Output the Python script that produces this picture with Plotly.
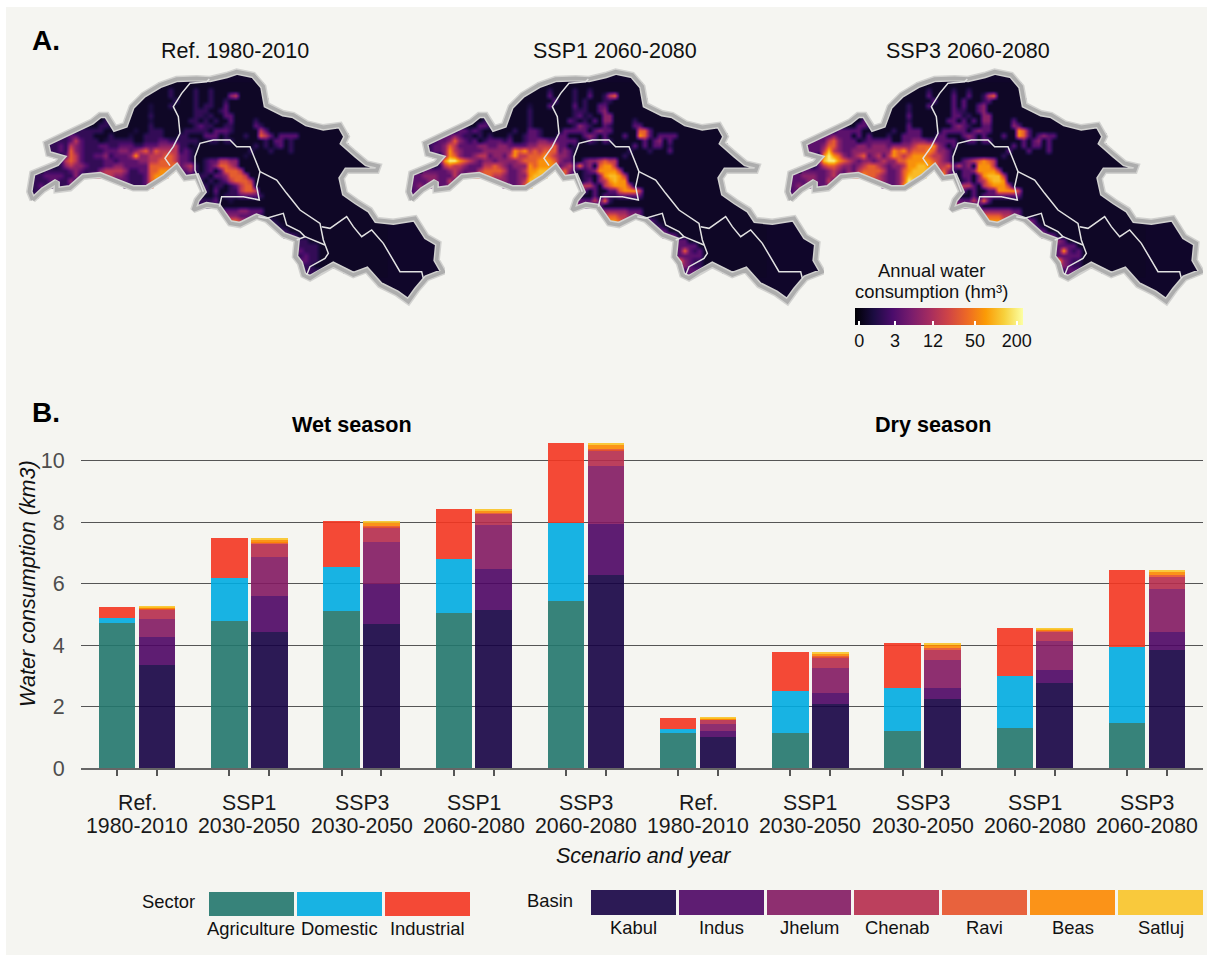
import numpy as np
import plotly.graph_objects as go

W, H = 1207, 958
scenario_names = ["Ref.", "SSP1", "SSP3", "SSP1", "SSP3", "Ref.", "SSP1", "SSP3", "SSP1", "SSP3"]
scenario_years = ["1980-2010", "2030-2050", "2030-2050", "2060-2080", "2060-2080",
                  "1980-2010", "2030-2050", "2030-2050", "2060-2080", "2060-2080"]
agriculture = [4.73, 4.78, 5.12, 5.05, 5.45, 1.13, 1.15, 1.22, 1.30, 1.45]
domestic = [.15, 1.42, 1.43, 1.75, 2.53, .14, 1.35, 1.40, 1.68, 2.48]
industrial = [.37, 1.28, 1.50, 1.62, 2.60, .36, 1.27, 1.45, 1.58, 2.52]
kabul = [3.35, 4.42, 4.70, 5.15, 6.28, 1.00, 2.07, 2.23, 2.77, 3.85]
indus = [.92, 1.18, 1.30, 1.32, 1.65, .20, .38, .39, .43, .58]
jhelum = [.58, 1.27, 1.35, 1.43, 1.90, .22, .82, .88, .93, 1.39]
chenab = [.32, .43, .48, .37, .52, .15, .33, .35, .30, .40]
ravi = [.02, .04, .05, .03, .04, .02, .04, .05, .03, .05]
beas = [.04, .09, .10, .08, .13, .03, .08, .10, .06, .11]
satluj = [.02, .05, .07, .04, .06, .02, .05, .07, .04, .07]
sector_names = ["Agriculture", "Domestic", "Industrial"]
basin_names = ["Kabul", "Indus", "Jhelum", "Chenab", "Ravi", "Beas", "Satluj"]
sector_colors = ["#22776d", "#00ace1", "#f43621"]
basin_colors = ["#160244", "#4e0664", "#831962", "#b62c4c", "#e75229", "#fc8800", "#fac428"]

outline = [(98,600),(88,575),(97,520),(135,505),(170,490),(185,473),(145,462),(138,430),(180,410),(230,385),(275,365),(300,345),(320,345),(345,385),(375,375),(395,320),(430,285),(480,255),(530,237),(590,235),(630,237),(680,225),(710,215),(760,225),(790,260),(800,315),(850,340),(880,345),(920,370),(970,382),(1020,375),(1040,410),(1030,430),(1070,465),(1100,490),(1135,498),(1130,512),(1090,512),(1040,512),(1025,535),(1035,580),(1070,605),(1110,630),(1130,660),(1180,665),(1245,655),(1280,710),(1315,730),(1310,780),(1330,815),(1280,835),(1250,870),(1225,905),(1190,880),(1140,855),(1100,810),(1060,825),(1000,795),(960,815),(930,835),(910,825),(900,790),(885,770),(890,720),(850,705),(800,660),(770,650),(720,675),(690,670),(655,620),(620,615),(580,630),(590,600),(610,575),(590,530),(555,535),(530,500),(495,530),(440,565),(400,565),(350,545),(300,525),(250,530),(210,565),(170,570),(170,545),(130,570),(98,600)]
boundaries = [
    [(628,237),(620,245),(570,250),(545,280),(520,320),(535,350),(540,400),(520,440),(495,475),(510,497)],
    [(610,575),(585,510),(585,470),(600,430),(640,420),(690,420),(710,440),(750,440),(770,490),(780,515),(770,560),(778,600),(730,590),(665,590),(658,620)],
    [(780,515),(830,540),(860,580),(900,630),(960,670),(970,720),(985,760),(975,775),(930,800),(920,825)],
    [(775,650),(800,655),(850,640),(860,675),(900,695),(915,710),(890,720)],
    [(915,710),(975,735)],
    [(965,680),(990,685),(1040,650),(1060,680),(1085,710),(1115,690),(1150,730),(1200,815),(1265,815),(1270,835)],
]

ref_rows = [
"",
".......... .......... ........2. ...2..2...",
".......... .......... ........2. ...2..2... 45",
".......... .......... .........2 ...2..2..2",
".......... .......... ....1...2. ...2.22..3",
".......... .......... ....1..... ...222..23",
".......... .......... ....2..... ...2212..3 3",
".......... 1....2.... ....1..... ..22.2.2.. 3....2....",
".......... ....221... ....2..... ...2322..2 2....32...",
".......... 22222..... .1..222... .22222.333 2.....53..",
".....22233 222...2... 1..2222... 22...333.2 ...2..653. 3333",
"....222235 3222.12222 2..2223322 2222..22.2 2......2.3 3.2",
"...2223254 3222332233 3223334445 22.1...... .....2.2.2 3.2",
"..22223264 3222233344 3456465555 232....... ....2...2. ..2",
"...222.365 3223342333 4744555665 332....... ...1......",
"...2.22565 3222233233 3344556665 332..23355 44",
".2222.2454 4322233443 3333666667 3452.23466 54",
"1232222234 3222455554 2233667776 3342.23.36 665",
"2223333224 2235555443 2223677776 322.22.334 6665",
"2222332242 1123344333 2223677775 1..22.2.23 56665",
"2232222232 1112223332 2223666654 ...2.2.22. 23566",
"1222122342 1111222222 2222655432 ...2.2.3.. 225665",
"122....... .......... ..33...... ....2..2.2 2233332",
"12........ .......... .......... ..222223.. 1",
".......... .......... .......... 222222.2..",
".......... .......... .......... 23.....2.3 3344333",
".......... .......... .......... .......344 4433332",
".......... .......... .......... ........45 6654.2.221",
".......... .......... .......... .........5 65..222222 1",
".......... .......... .......... .......... ....222222 22",
".......... .......... .......... .......... .......222 2232",
".......... .......... .......... .......... .......... ...222",
".......... .......... .......... .......... .......... ...32222",
".......... .......... .......... .......... .......... ...33222",
".......... .......... .......... .......... .......... ...32322",
".......... .......... .......... .......... .......... ...43322",
".......... .......... .......... .......... .......... ...5422",
".......... .......... .......... .......... .......... ...3222222 2",
".......... .......... .......... .......... .......... ...3322221",
]
ssp1_rows = [
"",
".......... .......... ........2. ...2..2...",
".......... .......... ........3. ...2..3..2 56",
".......... .......... .........3 ...2.2...2 2",
".......... .......... ....1...3. ...3.2..33",
".......... .......... ....2..... ...222..34",
".......... .......... ....2..... ...2312..4 4",
".......... 1....2.... ....2..... ..32.2.3.4 4....2....",
".......... ....332... ....2..... ...2432..3 2....33...",
".......... 33232..... .2..332... .33333.343 3.....663.",
".....22334 322.2.2... 2..2332... 33...343.3 ...3..763. 3333",
"....223346 4323.23332 3..2334433 3333..32.3 2......3.3 4.3",
"...2233465 3333443344 3333445556 33.2...... .....3.3.3 3.2",
"..22233475 4333344444 4767565666 343....... ....2...2. ..3",
"..2222.476 4334553443 5755666765 443....... ...2......",
"...3.23799 7654344344 4456667776 433..34456 55",
".3333.2565 5433355654 3444767777 3453634.67 75",
"2343333345 4333566665 3345778887 5642.23477 775",
"3334443335 3356666554 3344788888 6632.22.47 8875",
"3333443353 2234455444 3345888887 4332.23.45 7877",
"2343333343 2222333443 3346888886 3..32553.5 67775",
"2333232343 2222333333 3336777643 ...3.3.3.. 3367775",
"233....... .......... ..44...... ....3..3.3 2233333",
"12........ .......... .......... ..33333536 2",
".......... .......... .......... 3336333.3.",
".......... .......... .......... 34.....3.4 4444333",
".......... .......... .......... .......455 6655443",
".......... .......... .......... ........56 7765.3.332",
".......... .......... .......... .........6 76..333332 2",
".......... .......... .......... .......... ....333333 33",
".......... .......... .......... .......... .......333 3343",
".......... .......... .......... .......... .......... ...333",
".......... .......... .......... .......... .......... ...43333",
".......... .......... .......... .......... .......... ...336323",
".......... .......... .......... .......... .......... ...433333",
".......... .......... .......... .......... .......... ....64322",
".......... .......... .......... .......... .......... ...564322",
".......... .......... .......... .......... .......... ...3323333 3",
".......... .......... .......... .......... .......... ...4433332",
]
ssp3_rows = [
"",
".......... .......... ........2. ...2..2...",
".......... .......... ........3. ...3..3..2 56",
".......... .......... .........3 ...3.3...2 3",
".......... .......... ....2...3. ...3.3..34",
".......... .......... ....2..... ...322..34",
".......... .......... ....3..... ...3312..4 4",
".......... 2....3.... ....2..... ..33.3.3.4 4....3....",
".......... ....332... ....3..... ...3432..3 3....43...",
".......... 33333..... .2..333... .33333.343 3.....763.",
".....23334 333.3.3... 2..3333... 33...343.3 ...3..763. 3433",
"....233356 4333.23333 3..3344433 3333..33.3 3......3.3 4.3",
"...2333466 4333443444 3444456667 43.3...... .....3.3.3 3.3",
"..23333585 4334444444 4767566676 443....... ....3...3. ..3",
"..2333.797 6434563453 5765677765 543....... ...2......",
"...3.34899 7654344345 4466777776 543..34567 65",
".3333.3566 5443456654 3445778877 5563534.77 75",
"2343333345 4343566665 3346788887 5642.33477 775",
"3334443345 3356676654 3346888888 6733.33.47 8885",
"3333443353 2334456554 3346988887 5433.23.45 7887",
"2343333343 3333344553 3347988886 4..33553.5 67775",
"2333332343 3333333433 3336777653 3..3.3.3.. 3377775",
"233....... .......... ..44...... ....3..3.3 3333333",
"22........ .......... .......... ..33333536 3",
".......... .......... .......... 3336433.3.",
".......... .......... .......... 34.....3.4 4444433",
".......... .......... .......... .......456 6665543",
".......... .......... .......... ........56 7776.3.343",
".......... .......... .......... .........6 77..333333 2",
".......... .......... .......... .......... ....333333 33",
".......... .......... .......... .......... .......333 3343",
".......... .......... .......... .......... .......... ...343",
".......... .......... .......... .......... .......... ...43333",
".......... .......... .......... .......... .......... ...337323",
".......... .......... .......... .......... .......... ...433333",
".......... .......... .......... .......... .......... ....74322",
".......... .......... .......... .......... .......... ...574322",
".......... .......... .......... .......... .......... ...3423333 3",
".......... .......... .......... .......... .......... ...4433332",
]
code_values = {".": .55, "1": 1.0, "2": 1.5, "3": 2.4, "4": 3.4, "5": 4.5, "6": 5.7, "7": 6.8, "8": 7.6, "9": 8.7}
map_titles = ["Ref. 1980-2010", "SSP1 2060-2080", "SSP3 2060-2080"]
map_title_x = [235, 615, 968]
map_offset = 379
cbar_vals = [.23, 2.14, 4.18, 6.43, 8.66]
cbar_text = ["0", "3", "12", "50", "200"]

TXT = "Liberation Sans"
fig = go.Figure()
PANEL = "#f5f5f1"
shapes = [dict(type="rect", xref="paper", yref="paper", x0=6 / W, x1=1, y0=1 - 955 / H, y1=1 - 7 / H, fillcolor=PANEL, line_width=0, layer="below")]


def px(x):
    return x / W


def py(y):
    return 1 - y / H


def note(text, x, y, size, color="#111111", anchor="center", **kw):
    fig.add_annotation(text=text, x=px(x), y=py(y), xref="paper", yref="paper", showarrow=False,
                       xanchor=anchor, yanchor="middle", font=dict(family=TXT, size=size, color=color), **kw)


# ---- bars
offs = 0.178
group_x = np.arange(10)
for name, vals, col in zip(sector_names, [agriculture, domestic, industrial], sector_colors):
    fig.add_trace(go.Bar(x=group_x - offs, y=vals, width=.325, name=name, marker=dict(color=col, opacity=.9, line=dict(width=0)), xaxis="x", yaxis="y"))
for name, vals, col in zip(basin_names, [kabul, indus, jhelum, chenab, ravi, beas, satluj], basin_colors):
    fig.add_trace(go.Bar(x=group_x + offs, y=vals, width=.325, name=name, marker=dict(color=col, opacity=.9, line=dict(width=0)), xaxis="x", yaxis="y"))

# ---- maps
polyx = np.array([p[0] for p in outline]) / 3
polyy = np.array([p[1] for p in outline]) / 3


def inside(xs, ys):
    res = np.zeros(xs.shape, bool)
    n = len(polyx) - 1
    for i in range(n):
        x0, y0, x1, y1 = polyx[i], polyy[i], polyx[i + 1], polyy[i + 1]
        cond = (y0 > ys) != (y1 > ys)
        xcross = x0 + (ys - y0) / ((y1 - y0) if y1 != y0 else 1e-9) * (x1 - x0)
        res ^= cond & (xs < xcross)
    return res


def raster(rows):
    ncol = 72
    z = np.full((len(rows), ncol), code_values["."])
    for r, row in enumerate(rows):
        for c, ch in enumerate(row.replace(" ", "")):
            z[r, c] = code_values[ch]
    cx = 30 + 5 * np.arange(ncol)
    cy = 85 + 5 * np.arange(len(rows))
    xx, yy = np.meshgrid(cx, cy)
    z[~inside(xx.astype(float), yy.astype(float))] = np.nan
    return cx, cy, z


base_path = "M" + " L".join(f"{a:.2f},{b:.2f}" for a, b in zip(polyx, polyy)) + " Z"
for k, rows in enumerate([ref_rows, ssp1_rows, ssp3_rows]):
    suf = str(k + 2)
    xa, ya = "x" + suf, "y" + suf
    shapes.append(dict(type="path", path=base_path, xref=xa, yref=ya, fillcolor="#10062a", line_width=0, layer="below"))
    cx, cy, z = raster(rows)
    hm = dict(x=cx, y=cy, z=z, colorscale="Inferno", zmin=0, zmax=9, zsmooth="best", hoverinfo="skip", xaxis=xa, yaxis=ya, showscale=k == 0)
    if k == 0:
        hm["colorbar"] = dict(orientation="h", x=px(855), xanchor="left", y=py(308), yanchor="top", len=168, lenmode="pixels",
                              thickness=17, thicknessmode="pixels", xpad=0, ypad=0, outlinewidth=0, tickvals=cbar_vals, ticktext=cbar_text,
                              ticks="inside", tickcolor="#ffffff", ticklen=4, tickwidth=2, tickfont=dict(family=TXT, size=18, color="#111111"))
    fig.add_trace(go.Heatmap(**hm))
    fig.add_trace(go.Scatter(x=polyx, y=polyy, mode="lines", line=dict(color="#d2d2d0", width=6.5), hoverinfo="skip", xaxis=xa, yaxis=ya, showlegend=False))
    fig.add_trace(go.Scatter(x=polyx, y=polyy, mode="lines", line=dict(color="#adadad", width=3.6), hoverinfo="skip", xaxis=xa, yaxis=ya, showlegend=False))
    for b in boundaries:
        fig.add_trace(go.Scatter(x=[p[0] / 3 for p in b], y=[p[1] / 3 for p in b], mode="lines", line=dict(color="#e2e2e2", width=1.5), hoverinfo="skip", xaxis=xa, yaxis=ya, showlegend=False))
    fig.layout["xaxis" + suf] = dict(domain=[px(20 + map_offset * k), px(445 + map_offset * k)], range=[20, 445], visible=False, fixedrange=True)
    fig.layout["yaxis" + suf] = dict(domain=[py(310), py(60)], range=[310, 60], visible=False, fixedrange=True, anchor=xa)
    fig.layout["xaxis" + suf].anchor = ya
    note(map_titles[k], map_title_x[k], 51, 21.5)

# ---- texts
note("<b>A.</b>", 30, 40, 28, "#000000", "left")
note("<b>B.</b>", 30, 412, 28, "#000000", "left")
note("<b>Wet season</b>", 352, 424, 21.6, "#000000")
note("<b>Dry season</b>", 933, 424, 21.6, "#000000")
note("<i>Water consumption (km3)</i>", 27, 584, 21.6, "#111111", textangle=-90)
note("<i>Scenario and year</i>", 643, 856, 21.5)
note("Annual water", 931, 271, 18.4)
note("consumption (hm³)", 931, 291, 18.4)
for i, (s1, s2) in enumerate(zip(scenario_names, scenario_years)):
    for s, yy in ((s1, 803), (s2, 826)):
        fig.add_annotation(text=s, x=i, y=py(yy), xref="x", yref="paper", showarrow=False, yanchor="middle",
                           font=dict(family=TXT, size=21.3, color="#1a1a1a"))

# ---- legends
sector_key_x = [(209, 294), (297, 382), (385, 470)]
basin_key_x = [(591, 676), (679, 764), (767, 851), (854, 939), (942, 1027), (1030, 1115), (1118, 1203)]
for (a, b), col, nm in zip(sector_key_x, sector_colors, sector_names):
    shapes.append(dict(type="rect", xref="paper", yref="paper", x0=px(a), x1=px(b), y0=py(916), y1=py(892), fillcolor=col, opacity=.9, line_width=0))
    note(nm, (a + b) / 2 - 0.5, 928, 18.4)
for (a, b), col, nm in zip(basin_key_x, basin_colors, basin_names):
    shapes.append(dict(type="rect", xref="paper", yref="paper", x0=px(a), x1=px(b), y0=py(915), y1=py(890), fillcolor=col, opacity=.9, line_width=0))
    note(nm, (a + b) / 2, 927, 18.4)
note("Sector", 169, 901, 18.4)
note("Basin", 550, 900, 18.4)
for xv in [859.3, 895, 933, 975, 1016.7]:
    shapes.append(dict(type="line", xref="paper", yref="paper", x0=px(xv), x1=px(xv), y0=py(312), y1=py(308), line=dict(color="#ffffff", width=2)))

fig.update_layout(
    width=W, height=H, margin=dict(l=0, r=0, t=0, b=0, autoexpand=False), paper_bgcolor="#ffffff", plot_bgcolor="rgba(0,0,0,0)",
    barmode="stack", bargap=0, showlegend=False, shapes=shapes,
    xaxis=dict(domain=[px(81), px(1203)], range=[-.5, 9.5], tickmode="array", tickvals=np.concatenate([group_x - offs, group_x + offs]),
               ticktext=[""] * 20, ticks="outside", ticklen=6, tickwidth=2, tickcolor="#555555", showgrid=False, zeroline=False,
               showline=True, linecolor="#666666", linewidth=2, anchor="y", fixedrange=True),
    yaxis=dict(domain=[py(768), py(430)], range=[0, 338 / 30.72], tickvals=[0, 2, 4, 6, 8, 10], ticks="outside", ticklen=11, tickcolor="rgba(0,0,0,0)",
               tickfont=dict(family=TXT, size=21.5, color="#4d4d4d"), gridcolor="#555555", gridwidth=1, zeroline=False, showline=False, anchor="x", fixedrange=True),
)
fig.write_html("out.html", post_script="document.body.style.margin='0';", config={"displayModeBar": False})
